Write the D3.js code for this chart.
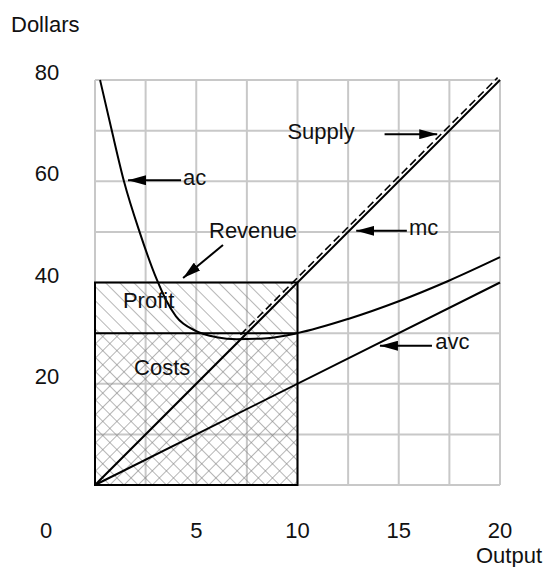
<!DOCTYPE html>
<html>
<head>
<meta charset="utf-8">
<script src="https://cdn.jsdelivr.net/npm/d3@7"></script>
<style>
  html, body { margin: 0; padding: 0; background: #fff; }
  svg { display: block; }
  text { font-family: "Liberation Sans", Arial, sans-serif; font-size: 22px; fill: #111; }
</style>
</head>
<body>
<svg id="chart" width="545" height="567"></svg>
<script>
// Cost curves of a competitive firm (output in units, values in dollars)
const xGrid = [0, 2.5, 5, 7.5, 10, 12.5, 15, 17.5, 20];
const yGrid = [0, 10, 20, 30, 40, 50, 60, 70, 80];
const xTicks = [5, 10, 15, 20];
const yTicks = [20, 40, 60, 80];

// marginal cost
const mcQ = [0, 20];
const mcP = [0, 80];
// average variable cost
const avcQ = [0, 20];
const avcP = [0, 40];
// average cost
const acQ = [0.25, 0.8, 1.43, 2.2, 3.06, 3.5, 4, 5, 6, 7, 8.5, 10, 12.5, 15, 17.5, 20];
const acP = [80, 70.5, 60, 50, 40.5, 36.6, 33.3, 30.4, 29.2, 28.8, 29, 30, 32.8, 36.3, 40.4, 45];
// supply: the part of mc above the minimum of ac
const supplyQ = [7.3, 20];
const supplyP = [29.2, 80];

// the firm's position
const outputQ = 10;
const price = 40;
const avgCost = 30;

const svg = d3.select("#chart");
const x = d3.scaleLinear().domain([0, 20]).range([95, 500]);
const y = d3.scaleLinear().domain([0, 80]).range([485, 80]);

// hatch patterns
const defs = svg.append("defs");
function hatch(id, angle) {
  const p = defs.append("pattern")
    .attr("id", id)
    .attr("patternUnits", "userSpaceOnUse")
    .attr("width", 10).attr("height", 10)
    .attr("patternTransform", `translate(${x(0)},${y(0)}) rotate(${angle})`);
  p.append("line")
    .attr("x1", 0).attr("y1", -1).attr("x2", 0).attr("y2", 11)
    .attr("stroke", "#858585").attr("stroke-width", 1.2);
}
hatch("hatchBack", -45);
hatch("hatchFwd", 45);

defs.append("marker")
  .attr("id", "arrowHead")
  .attr("viewBox", "0 0 18 10")
  .attr("refX", 18).attr("refY", 5)
  .attr("markerWidth", 18).attr("markerHeight", 10)
  .attr("markerUnits", "userSpaceOnUse")
  .attr("orient", "auto")
  .append("path")
  .attr("d", "M0,0 L18,5 L0,10 Z")
  .attr("fill", "#000");

// grid
const grid = svg.append("g").attr("stroke", "#c8c8c8").attr("stroke-width", 2);
grid.selectAll("line.v").data(xGrid).join("line").attr("class", "v")
  .attr("x1", d => x(d)).attr("x2", d => x(d))
  .attr("y1", y(0)).attr("y2", y(80));
grid.selectAll("line.h").data(yGrid).join("line").attr("class", "h")
  .attr("x1", x(0)).attr("x2", x(20))
  .attr("y1", d => y(d)).attr("y2", d => y(d));

// profit and cost areas
svg.append("rect")
  .attr("x", x(0)).attr("y", y(price))
  .attr("width", x(outputQ) - x(0)).attr("height", y(avgCost) - y(price))
  .attr("fill", "url(#hatchBack)");
["hatchBack", "hatchFwd"].forEach(id => {
  svg.append("rect")
    .attr("x", x(0)).attr("y", y(avgCost))
    .attr("width", x(outputQ) - x(0)).attr("height", y(0) - y(avgCost))
    .attr("fill", `url(#${id})`);
});

// revenue box and cost line
svg.append("rect")
  .attr("x", x(0)).attr("y", y(price))
  .attr("width", x(outputQ) - x(0)).attr("height", y(0) - y(price))
  .attr("fill", "none").attr("stroke", "#000").attr("stroke-width", 2);
svg.append("line")
  .attr("x1", x(0)).attr("x2", x(outputQ))
  .attr("y1", y(avgCost)).attr("y2", y(avgCost))
  .attr("stroke", "#000").attr("stroke-width", 2);

// curves
const line = d3.line().x(d => x(d[0])).y(d => y(d[1]));
const smooth = d3.line().x(d => x(d[0])).y(d => y(d[1])).curve(d3.curveMonotoneX);
const zip = (a, b) => a.map((v, i) => [v, b[i]]);

svg.append("path").datum(zip(supplyQ, supplyP))
  .attr("d", line)
  .attr("transform", "translate(-2.4,-2.4)")
  .attr("fill", "none").attr("stroke", "#000")
  .attr("stroke-width", 1.6).attr("stroke-dasharray", "8,4");
svg.append("path").datum(zip(mcQ, mcP))
  .attr("d", line).attr("fill", "none").attr("stroke", "#000").attr("stroke-width", 2);
svg.append("path").datum(zip(avcQ, avcP))
  .attr("d", line).attr("fill", "none").attr("stroke", "#000").attr("stroke-width", 2);
svg.append("path").datum(zip(acQ, acP))
  .attr("d", smooth).attr("fill", "none").attr("stroke", "#000").attr("stroke-width", 2);

// axis labels
svg.append("text").attr("x", 11).attr("y", 32).text("Dollars");
svg.selectAll("text.ytick").data(yTicks).join("text").attr("class", "ytick")
  .attr("x", 47).attr("y", d => y(d)).attr("text-anchor", "middle").text(d => d);
svg.selectAll("text.xtick").data(xTicks).join("text").attr("class", "xtick")
  .attr("x", d => x(d)).attr("y", 538).attr("text-anchor", "middle").text(d => d);
svg.append("text").attr("x", 46).attr("y", 538).attr("text-anchor", "middle").text("0");
svg.append("text").attr("x", 542).attr("y", 563).attr("text-anchor", "end").text("Output");

// callouts: arrow from tail to tip (data units), label anchored near the tail
const callouts = [
  { text: "ac",      tip: [1.63, 60.2], tail: [4.25, 60.2], at: [4.35, 59.3] },
  { text: "Supply",  tip: [16.9, 69.3], tail: [14.3, 69.3], at: [9.5, 68.3] },
  { text: "mc",      tip: [12.9, 50.2], tail: [15.4, 50.2], at: [15.5, 49.4] },
  { text: "avc",     tip: [14.07, 27.5], tail: [16.64, 27.5], at: [16.8, 26.9] },
  { text: "Revenue", tip: [4.35, 40.9], tail: [6.32, 47.4], at: [5.63, 48.8] }
];
callouts.forEach(c => {
  svg.append("line")
    .attr("x1", x(c.tail[0])).attr("y1", y(c.tail[1]))
    .attr("x2", x(c.tip[0])).attr("y2", y(c.tip[1]))
    .attr("stroke", "#000").attr("stroke-width", 2)
    .attr("marker-end", "url(#arrowHead)");
  svg.append("text").attr("x", x(c.at[0])).attr("y", y(c.at[1])).text(c.text);
});
svg.append("text").attr("x", x(1.38)).attr("y", y(35)).text("Profit");
svg.append("text").attr("x", x(1.93)).attr("y", y(21.7)).text("Costs");
</script>
</body>
</html>
